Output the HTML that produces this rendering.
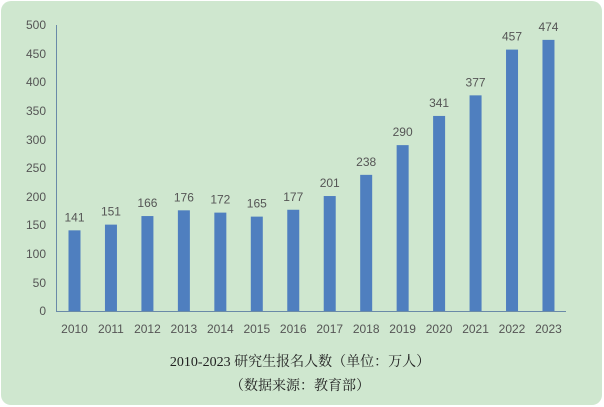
<!DOCTYPE html>
<html><head><meta charset="utf-8"><style>
body{margin:0;background:#fff;}
svg{display:block}
</style></head><body>
<svg width="604" height="407" xmlns="http://www.w3.org/2000/svg">
<rect x="1" y="1" width="601" height="404" rx="10" fill="#cfe7cf"/>
<g font-family="Liberation Sans, sans-serif" font-size="12" fill="#555">
<g text-anchor="end">
<text x="46" y="315">0</text><text x="46" y="287">50</text><text x="46" y="258">100</text><text x="46" y="229">150</text><text x="46" y="201">200</text><text x="46" y="172">250</text><text x="46" y="144">300</text><text x="46" y="115">350</text><text x="46" y="86">400</text><text x="46" y="58">450</text><text x="46" y="29">500</text>
</g>
</g>
<line x1="56.5" y1="25" x2="56.5" y2="311.5" stroke="#6a8aa8" stroke-width="1"/>
<line x1="56" y1="311.5" x2="566" y2="311.5" stroke="#6a8aa8" stroke-width="1"/>
<g id="bars" fill="#4f7fbf"></g>
<g id="lbl" font-family="Liberation Sans, sans-serif" font-size="12" fill="#555" text-anchor="middle"></g>
<g font-family="Liberation Serif, Noto Serif CJK SC, serif" font-size="14" fill="#222" text-anchor="middle">
<text x="300" y="366">2010-2023 研究生报名人数（单位：万人）</text>
<text x="300" y="390">（数据来源：教育部）</text>
</g>
<script>
var v=[141,151,166,176,172,165,177,201,238,290,341,377,457,474];
var b=document.getElementById('bars'),l=document.getElementById('lbl'),ns='http://www.w3.org/2000/svg';
v.forEach(function(d,i){var cx=74.5+i*36.46,h=d*0.572,y=311-h;
var r=document.createElementNS(ns,'rect');r.setAttribute('x',cx-6);r.setAttribute('y',y);r.setAttribute('width',12);r.setAttribute('height',h);b.appendChild(r);
var t=document.createElementNS(ns,'text');t.setAttribute('x',cx);t.setAttribute('y',y-9);t.textContent=d;l.appendChild(t);
var t2=document.createElementNS(ns,'text');t2.setAttribute('x',cx);t2.setAttribute('y',333);t2.textContent=2010+i;l.appendChild(t2);});
</script>
</svg>
</body></html>
